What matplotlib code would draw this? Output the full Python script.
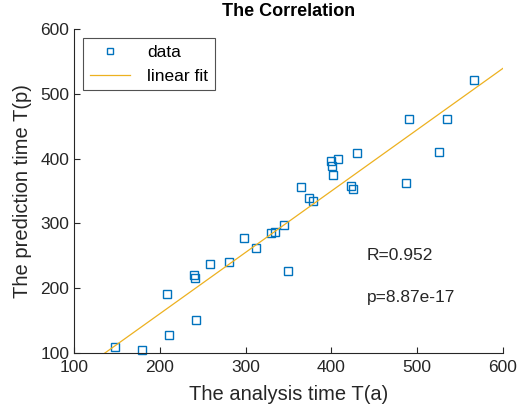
import numpy as np
import matplotlib
matplotlib.use("Agg")
import matplotlib.pyplot as plt

plt.rcParams['font.family'] = ['Liberation Sans', 'DejaVu Sans']

analysis_time = [148, 179, 208, 211, 242, 240, 241, 258, 281, 298, 312, 330, 334, 345, 349,
                 365, 374, 378, 400, 401, 402, 408, 430, 423, 425, 487, 490, 525, 535, 566]
prediction_time = [109, 105, 191, 128, 151, 220, 216, 237, 241, 278, 262, 285, 287, 297, 226,
                   356, 339, 335, 396, 389, 374, 400, 408, 358, 353, 363, 461, 410, 461, 522]
x_ticks = [100, 200, 300, 400, 500, 600]
y_ticks = [100, 200, 300, 400, 500, 600]
r_text = "R=0.952"
p_text = "p=8.87e-17"

x = np.array(analysis_time, float)
y = np.array(prediction_time, float)
k, b = np.polyfit(x, y, 1)

fig = plt.figure(figsize=(5.18, 4.17), dpi=100)
ax = fig.add_axes([0.1429, 0.1535, 0.8281, 0.7770])
ax.plot(x, y, 's', mfc='none', mec='#0072BD', ms=5.5, mew=1.0, label='data', clip_on=False)
xf = np.array([100, 600])
ax.plot(xf, k * xf + b, '-', color='#EDB120', lw=0.9, label='linear fit')
ax.set_xlim(100, 600)
ax.set_ylim(100, 600)
ax.set_xticks(x_ticks)
ax.set_yticks(y_ticks)
for s in ['top', 'right']:
    ax.spines[s].set_visible(False)
for s in ['left', 'bottom']:
    ax.spines[s].set_color('#262626')
    ax.spines[s].set_linewidth(0.8)
ax.tick_params(direction='in', length=4, width=0.8, colors='#262626', labelsize=12.5)
ax.tick_params(axis='x', pad=5)
ax.set_xlabel('The analysis time T(a)', fontsize=14.5, color='#262626', labelpad=7)
ax.set_ylabel('The prediction time T(p)', fontsize=14.5, color='#262626', labelpad=6)
ax.set_title('The Correlation', fontsize=13, fontweight='bold', pad=9)
ax.text(441, 250, r_text, fontsize=12.5, va='center', ha='left', color='#262626')
ax.text(441, 185, p_text, fontsize=12.5, va='center', ha='left', color='#262626')
leg = ax.legend(loc='upper left', bbox_to_anchor=(0.021, 0.972), borderaxespad=0,
                fontsize=12.5, frameon=True, fancybox=False, edgecolor='#262626',
                handlelength=2.3, handletextpad=1.0, borderpad=0.38, labelspacing=0.5,
                markerscale=0.75)
leg.get_frame().set_linewidth(0.8)
fig.savefig('out.png', dpi=100)
